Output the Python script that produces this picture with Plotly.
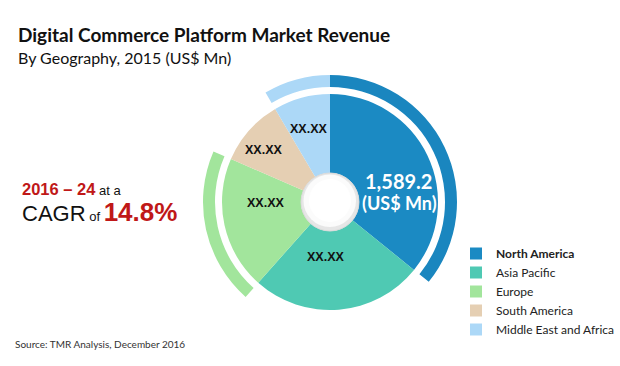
import plotly.graph_objects as go

# ---------------- data ----------------
regions = ["North America", "Asia Pacific", "Europe", "South America", "Middle East and Africa"]
legend_text = ["<b>North America</b>", "Asia Pacific", "Europe", "South America", "Middle East and Africa"]
revenue_2015 = [1589.2, 1142, 885, 444, 376]
value_labels = ["1,589.2", "XX.XX", "XX.XX", "XX.XX", "XX.XX"]
unit_label = "(US$ Mn)"
cagr_period = "2016 – 24"
cagr_value = "14.8%"

slice_colors = ["#1b8ac3", "#4fc9b3", "#a2e59c", "#e5cfb3", "#acd8f7"]
ring_colors = ["#1a86bf", "rgba(0,0,0,0)", "#a2e59c", "rgba(0,0,0,0)", "#acd8f7"]

W, H = 620, 366


def px(x):
    return x / W


def py(y):
    return 1 - y / H


def dom(cx, cy, r):
    return dict(x=[px(cx - r), px(cx + r)], y=[py(cy + r), py(cy - r)])


CX, CY, R, R_IN = 330, 202, 108, 29
RING_OUT, RING_IN = 127, 115

fig = go.Figure()

fig.add_trace(go.Pie(
    labels=legend_text, values=revenue_2015, sort=False, direction="clockwise",
    rotation=0, hole=R_IN / R, domain=dom(CX, CY, R),
    marker=dict(colors=slice_colors, line=dict(width=0)),
    textinfo="none", hoverinfo="skip", showlegend=True,
))

fig.add_trace(go.Pie(
    labels=[r + " ring" for r in regions], values=revenue_2015, sort=False,
    direction="clockwise", rotation=0, hole=RING_IN / RING_OUT,
    domain=dom(CX, CY, RING_OUT),
    marker=dict(colors=ring_colors, line=dict(width=0)),
    textinfo="none", hoverinfo="skip", showlegend=False,
))

# center bubble
shapes = [
    dict(type="circle", xref="paper", yref="paper", layer="above",
         x0=px(CX - 29), x1=px(CX + 29), y0=py(CY + 29), y1=py(CY - 29),
         fillcolor="#e6e6e6", line=dict(color="#dadada", width=1)),
    dict(type="circle", xref="paper", yref="paper", layer="above",
         x0=px(CX - 26.5), x1=px(CX + 26), y0=py(CY + 25), y1=py(CY - 27.5),
         fillcolor="#fbfbfb", line=dict(width=0)),
    dict(type="circle", xref="paper", yref="paper", layer="above",
         x0=px(CX - 21), x1=px(CX + 21), y0=py(CY + 20), y1=py(CY - 23),
         fillcolor="#ffffff", line=dict(width=0)),
]

ann = []
# slice value labels
label_pos = [(398, 181), (325, 266), (265, 203), (263, 150), (308, 120)]
for i, (x, y) in enumerate(label_pos):
    if i == 0:
        ann.append(dict(x=px(x), y=py(y), text="<b>" + value_labels[i] + "</b>",
                        font=dict(family="Lato", size=20, color="white")))
        ann.append(dict(x=px(x + 1), y=py(y + 22), text="<b>" + unit_label + "</b>",
                        font=dict(family="Lato", size=18, color="white")))
    else:
        ann.append(dict(x=px(x), y=py(y), text="<b>" + value_labels[i] + "</b>",
                        font=dict(family="Liberation Sans", size=12.5, color="#111")))

# titles
ann.append(dict(x=px(16), y=py(21), xanchor="left", text="<b>Digital Commerce Platform Market Revenue</b>",
                font=dict(family="Lato", size=19, color="#111")))
ann.append(dict(x=px(16), y=py(46), xanchor="left", text="By Geography, 2015 (US$ Mn)",
                font=dict(family="Lato", size=16, color="#111")))
# CAGR text
ann.append(dict(x=px(20), y=py(189), xanchor="left",
                text="<span style='color:#c01818'><b>" + cagr_period + "</b></span>"
                     "<span style='font-size:13px'> at a</span>",
                font=dict(family="Liberation Sans", size=16.5, color="#111")))
ann.append(dict(x=px(20), y=py(212), xanchor="left",
                text="CAGR<span style='font-size:13px'> of </span>"
                     "<span style='color:#c01818;font-size:26px'><b>" + cagr_value + "</b></span>",
                font=dict(family="Liberation Sans", size=22, color="#111")))
# source
ann.append(dict(x=px(13), y=py(352), xanchor="left", text="Source: TMR Analysis, December 2016",
                font=dict(family="Lato", size=10, color="#333")))

for a in ann:
    a.update(xref="paper", yref="paper", showarrow=False)

fig.update_layout(
    width=W, height=H, margin=dict(l=0, r=0, t=0, b=0, pad=0, autoexpand=False),
    paper_bgcolor="white", plot_bgcolor="white",
    shapes=shapes, annotations=ann,
    legend=dict(x=px(456), y=py(239), xanchor="left", yanchor="top",
                font=dict(family="Lato", size=12, color="#222"),
                bgcolor="rgba(0,0,0,0)", traceorder="normal"),
)

fig.write_html("out.html", config={"displayModeBar": False},
               post_script="document.body.style.margin='0';")
